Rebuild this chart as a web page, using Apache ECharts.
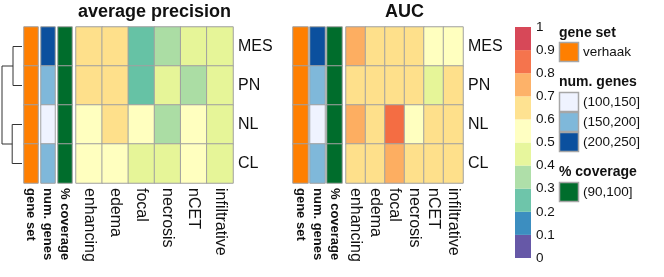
<!DOCTYPE html>
<html><head><meta charset="utf-8">
<script src="https://cdn.jsdelivr.net/npm/echarts@6/dist/echarts.min.js"></script>
<style>html,body{margin:0;padding:0;background:#fff}#c{width:664px;height:277px}</style>
</head><body><div id="c"></div>
<script>
// ---- data ----
const rows = ['MES', 'PN', 'NL', 'CL'];
const regions = ['enhancing', 'edema', 'focal', 'necrosis', 'nCET', 'infiltrative'];
const annotLabels = ['gene set', 'num. genes', '% coverage'];
const apValues = [
  [0.64, 0.63, 0.26, 0.36, 0.44, 0.43],
  [0.63, 0.62, 0.27, 0.43, 0.37, 0.44],
  [0.56, 0.61, 0.55, 0.34, 0.55, 0.45],
  [0.55, 0.56, 0.46, 0.44, 0.54, 0.45]
];
const aucValues = [
  [0.72, 0.66, 0.65, 0.64, 0.57, 0.56],
  [0.65, 0.64, 0.66, 0.63, 0.47, 0.62],
  [0.73, 0.65, 0.84, 0.57, 0.63, 0.64],
  [0.66, 0.65, 0.74, 0.64, 0.66, 0.63]
];
const geneSetVals = ['verhaak', 'verhaak', 'verhaak', 'verhaak'];
const numGenesVals = ['(200,250]', '(150,200]', '(100,150]', '(150,200]'];
const coverageVals = ['(90,100]', '(90,100]', '(90,100]', '(90,100]'];
const geneSetLevels = ['verhaak'];
const numGenesLevels = ['(100,150]', '(150,200]', '(200,250]'];
const coverageLevels = ['(90,100]'];
// dendrogram merges: [rowA, rowB, height, heightA, heightB]
const dendroMerges = [
  [0, 1, 0.45, 0, 0],
  [2, 3, 0.49, 0, 0],
  [0.5, 2.5, 1.0, 0.45, 0.49]
];
const binEdges = [0, 0.1, 0.2, 0.3, 0.4, 0.5, 0.6, 0.7, 0.8, 0.9, 1];
const colorTicks = ['0', '0.1', '0.2', '0.3', '0.4', '0.5', '0.6', '0.7', '0.8', '0.9', '1'];

// ---- styles ----
const binColors = ['#5E4FA2', '#3288BD', '#66C2A5', '#ABDDA4', '#E6F598', '#FFFFBF', '#FEE08B', '#FDAE61', '#F46D43', '#D53E4F'];
const geneSetColors = ['#FF7F00'];
const numGenesColors = ['#EFF3FF', '#7FB8DA', '#0B509E'];
const coverageColors = ['#006D2C'];
const FONT = 'Liberation Sans, Arial, sans-serif';
const TXT = '#111';

const chart = echarts.init(document.getElementById('c'), null, {renderer: 'canvas'});

const TOP = 27, H = 156;
const panels = [
  {annot: [24, 41, 58], aw: 14, main: 76, mw: 157, values: apValues, title: 'average precision'},
  {annot: [293, 310, 327], aw: 15, main: 346, mw: 117, values: aucValues, title: 'AUC'}
];

const grid = [], xAxis = [], yAxis = [], series = [];
const mainSeriesIdx = [], annotSeriesIdx = [];

function rowAxis(gi, showLabels) {
  return {type: 'category', gridIndex: gi, data: rows, inverse: true, position: 'right',
    axisLine: {show: false}, axisTick: {show: false}, splitLine: {show: false},
    axisLabel: {show: showLabels, fontSize: 16, fontFamily: FONT, color: TXT, margin: 5}};
}
function colAxis(gi, cats, bold) {
  return {type: 'category', gridIndex: gi, data: cats, position: 'bottom',
    axisLine: {show: false}, axisTick: {show: false}, splitLine: {show: false},
    axisLabel: {rotate: -90, interval: 0, fontSize: bold ? 13 : 16, fontWeight: bold ? 'bold' : 'normal',
      fontFamily: FONT, color: TXT, margin: 5}};
}

// dendrogram grid
grid.push({left: 2, top: TOP, width: 20, height: H});
xAxis.push({type: 'value', gridIndex: 0, min: 0, max: 1, inverse: true, show: false});
yAxis.push({type: 'value', gridIndex: 0, min: -0.5, max: 3.5, inverse: true, show: false});
series.push({type: 'custom', xAxisIndex: 0, yAxisIndex: 0, data: dendroMerges,
  encode: {x: [2, 3, 4], y: [0, 1]}, silent: true,
  renderItem: function (params, api) {
    const yA = api.value(0), yB = api.value(1), h = api.value(2), hA = api.value(3), hB = api.value(4);
    const pts = [api.coord([hA, yA]), api.coord([h, yA]), api.coord([h, yB]), api.coord([hB, yB])];
    return {type: 'polyline', shape: {points: pts}, style: {stroke: '#333', lineWidth: 1, fill: null}};
  }});

const annotSources = [
  {vals: geneSetVals, levels: geneSetLevels, offset: 0},
  {vals: numGenesVals, levels: numGenesLevels, offset: 1},
  {vals: coverageVals, levels: coverageLevels, offset: 4}
];
const annotColors = geneSetColors.concat(numGenesColors, coverageColors);

panels.forEach(function (p) {
  annotSources.forEach(function (a, k) {
    const gi = grid.length;
    grid.push({left: p.annot[k], top: TOP, width: p.aw, height: H});
    xAxis.push(colAxis(gi, [annotLabels[k]], true));
    yAxis.push(rowAxis(gi, false));
    annotSeriesIdx.push(series.length);
    series.push({type: 'heatmap', xAxisIndex: gi, yAxisIndex: gi,
      data: a.vals.map(function (v, i) { return [0, i, a.offset + a.levels.indexOf(v)]; }),
      itemStyle: {borderColor: '#a0a0a0', borderWidth: 1}, emphasis: {disabled: true}});
  });
  const gi = grid.length;
  grid.push({left: p.main, top: TOP, width: p.mw, height: H});
  xAxis.push(colAxis(gi, regions, false));
  yAxis.push(rowAxis(gi, true));
  const d = [];
  p.values.forEach(function (r, i) { r.forEach(function (v, j) { d.push([j, i, v]); }); });
  mainSeriesIdx.push(series.length);
  series.push({type: 'heatmap', xAxisIndex: gi, yAxisIndex: gi, data: d,
    itemStyle: {borderColor: '#a0a0a0', borderWidth: 1}, emphasis: {disabled: true}});
});

// colour bar
const cbi = grid.length;
grid.push({left: 515, top: TOP, width: 16, height: 231});
xAxis.push({type: 'category', gridIndex: cbi, data: [''], show: false});
yAxis.push({type: 'value', gridIndex: cbi, min: 0, max: 1, interval: 0.1, position: 'right',
  axisLine: {show: false}, axisTick: {show: false}, splitLine: {show: false},
  axisLabel: {fontSize: 13.5, fontFamily: FONT, color: TXT, margin: 5,
    formatter: function (v) { return colorTicks[Math.round(v * 10)]; }}});
binColors.forEach(function (c, i) {
  series.push({type: 'bar', xAxisIndex: cbi, yAxisIndex: cbi, stack: 'cb', barWidth: '100%',
    data: [binEdges[i + 1] - binEdges[i]], itemStyle: {color: c, opacity: 0.95}, silent: true});
});

const pieces = binColors.map(function (c, i) { return {gte: binEdges[i], lt: binEdges[i + 1], color: c}; });
pieces[pieces.length - 1].lte = 1; delete pieces[pieces.length - 1].lt;

// legend graphics
const g = [];
panels.forEach(function (p) {
  g.push({type: 'text', x: p.main + p.mw / 2, y: 12, style: {text: p.title, font: 'bold 18px ' + FONT, fill: TXT, textAlign: 'center', textVerticalAlign: 'middle'}});
});
function legTitle(t, yc) { g.push({type: 'text', x: 559, y: yc, style: {text: t, font: 'bold 14px ' + FONT, fill: TXT, textVerticalAlign: 'middle'}}); }
function legItem(t, col, y0) {
  g.push({type: 'rect', shape: {x: 559.5, y: y0, width: 19, height: 19}, style: {fill: col, stroke: '#a6a6a6', lineWidth: 1.5}});
  g.push({type: 'text', x: 583, y: y0 + 10, style: {text: t, font: '13.5px ' + FONT, fill: TXT, textVerticalAlign: 'middle'}});
}
legTitle('gene set', 33);
geneSetLevels.forEach(function (l, i) { legItem(l, geneSetColors[i], 42.5 + i * 20); });
legTitle('num. genes', 82);
numGenesLevels.forEach(function (l, i) { legItem(l, numGenesColors[i], 92.5 + i * 20); });
legTitle('% coverage', 172);
coverageLevels.forEach(function (l, i) { legItem(l, coverageColors[i], 182.5 + i * 20); });

chart.setOption({
  animation: false,
  grid: grid, xAxis: xAxis, yAxis: yAxis, series: series,
  visualMap: [
    {type: 'piecewise', show: false, seriesIndex: mainSeriesIdx, dimension: 2, pieces: pieces},
    {type: 'piecewise', show: false, seriesIndex: annotSeriesIdx, dimension: 2,
      pieces: annotColors.map(function (c, i) { return {value: i, color: c}; })}
  ],
  graphic: g
});
</script></body></html>
